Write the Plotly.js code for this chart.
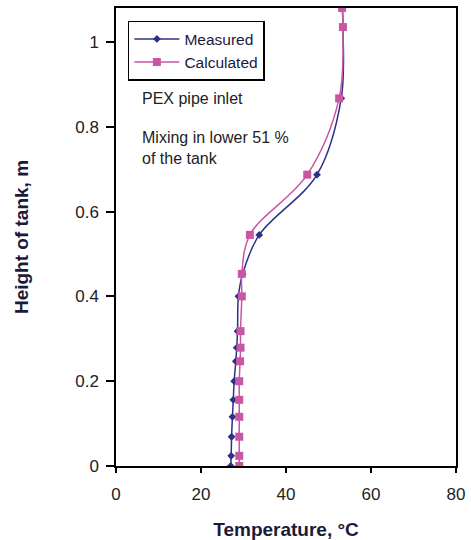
<!DOCTYPE html>
<html><head><meta charset="utf-8">
<script src="https://cdn.plot.ly/plotly-3.0.1.min.js"></script>
<style>body{margin:0;background:#fff}#c{width:471px;height:540px}</style>
</head><body><div id="c"></div>
<script>
var heights = [0.0, 0.024, 0.069, 0.116, 0.156, 0.20, 0.247, 0.279, 0.318, 0.40, 0.453, 0.545, 0.687, 0.867, 1.035, 1.08];
var measured = [27.0, 27.1, 27.2, 27.4, 27.6, 27.8, 28.2, 28.4, 28.6, 28.8, 29.8, 33.7, 47.3, 53.0, 53.4, 53.3];
var calculated = [29.0, 29.0, 29.0, 29.0, 29.0, 29.0, 29.2, 29.3, 29.3, 29.6, 29.6, 31.5, 45.0, 52.5, 53.4, 53.2];
var xTicks = [0, 20, 40, 60, 80];
var yTicks = [0, 0.2, 0.4, 0.6, 0.8, 1];
var yTickText = ['0', '0.2', '0.4', '0.6', '0.8', '1'];

var traces = [
  {x: measured, y: heights, name: 'Measured', mode: 'lines+markers', type: 'scatter',
   line: {color: '#2E3088', width: 1.5, shape: 'spline'},
   marker: {symbol: 'diamond', size: 6, color: '#2E3088'}},
  {x: calculated, y: heights, name: 'Calculated', mode: 'lines+markers', type: 'scatter',
   line: {color: '#C955A5', width: 1.5, shape: 'spline'},
   marker: {symbol: 'square', size: 8, color: '#C955A5'}}
];
var layout = {
  width: 471, height: 540,
  margin: {l: 116, r: 15, t: 8, b: 74},
  paper_bgcolor: '#fff', plot_bgcolor: '#fff',
  font: {family: 'Liberation Sans, Arial, sans-serif', color: '#111'},
  showlegend: true,
  legend: {x: 0.035, y: 0.972, xanchor: 'left', yanchor: 'top', bgcolor: '#fff',
           bordercolor: '#000', borderwidth: 1.5, font: {size: 15.5, color: '#1a1a40'},
           tracegroupgap: 0, itemwidth: 45},
  xaxis: {range: [0, 80], tickvals: xTicks, ticks: 'outside', ticklen: 5, tickwidth: 1.5,
          tickcolor: '#000', showline: true, linecolor: '#000', linewidth: 1.5, mirror: true,
          showgrid: false, zeroline: false, tickfont: {size: 17, color: '#222'}, ticklabelstandoff: 7,
          automargin: false,
          title: {text: '<b>Temperature, °C</b>', font: {size: 19, color: '#1a1a3a'}, standoff: 22}},
  yaxis: {range: [0, 1.08], tickvals: yTicks, ticktext: yTickText, ticks: 'outside', ticklen: 8,
          tickwidth: 1.5, tickcolor: '#000', showline: true, linecolor: '#000', linewidth: 1.5,
          mirror: true, showgrid: false, zeroline: false, tickfont: {size: 17, color: '#222'},
          ticklabelstandoff: 4, automargin: false,
          title: {text: '<b>Height of tank, m</b>', font: {size: 19, color: '#1a1a3a'}, standoff: 42}},
  annotations: [
    {xref: 'paper', yref: 'paper', x: 0.07, y: 0.803, xanchor: 'left', yanchor: 'middle',
     text: 'PEX pipe inlet', showarrow: false, font: {size: 16, color: '#222'}},
    {xref: 'paper', yref: 'paper', x: 0.07, y: 0.695, xanchor: 'left', yanchor: 'middle', align: 'left',
     text: 'Mixing in lower 51 %<br>of the tank', showarrow: false, font: {size: 16, color: '#222'}}
  ]
};
Plotly.newPlot('c', traces, layout, {displayModeBar: false});
</script></body></html>
